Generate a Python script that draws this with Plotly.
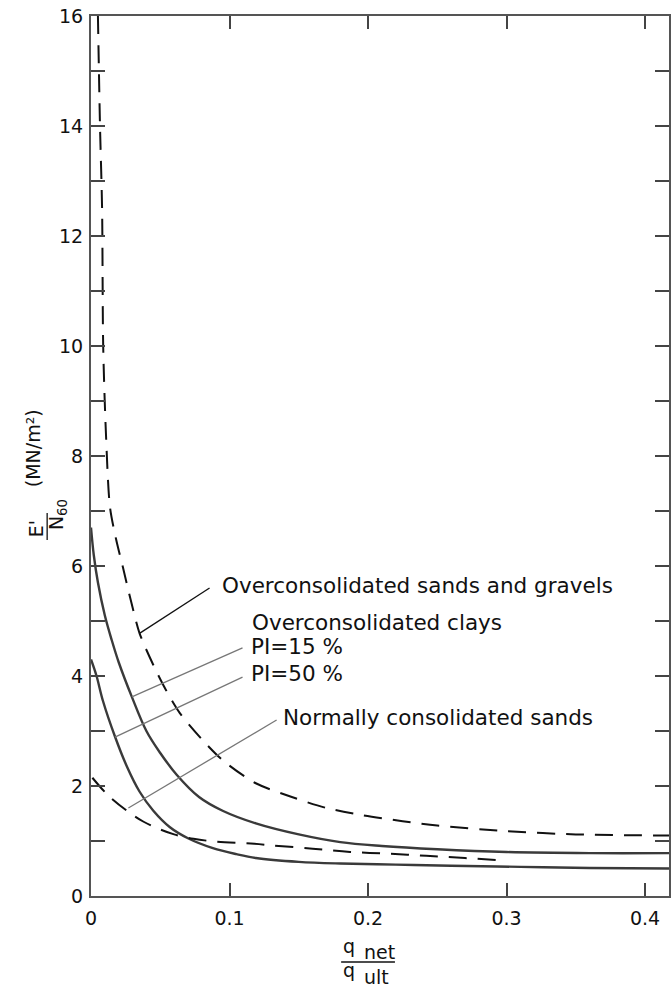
import plotly.graph_objects as go

# ---- curve data: E'/N60 (MN/m2) against q_net/q_ult ----
oc_sands_x = [0.005, 0.0065, 0.008, 0.0088, 0.0108, 0.0137, 0.018, 0.023, 0.029, 0.035, 0.045,
              0.054, 0.064, 0.08, 0.095, 0.119, 0.145, 0.17, 0.196, 0.225, 0.25, 0.3, 0.35, 0.4173]
oc_sands_y = [16, 14, 12.5, 10, 8.4, 7.07, 6.5, 5.98, 5.35, 4.78, 4.2,
              3.75, 3.33, 2.85, 2.47, 2.05, 1.8, 1.6, 1.47, 1.36, 1.28, 1.18, 1.12, 1.1]

pi15_x = [0, 0.002, 0.005, 0.01, 0.015, 0.02, 0.0295, 0.04, 0.05, 0.062, 0.078, 0.095,
          0.119, 0.15, 0.18, 0.21, 0.25, 0.3, 0.36, 0.4173]
pi15_y = [6.7, 6.2, 5.7, 5.1, 4.65, 4.25, 3.62, 3.0, 2.6, 2.2, 1.8, 1.55,
          1.32, 1.12, 0.98, 0.91, 0.85, 0.8, 0.78, 0.78]

pi50_x = [0, 0.004, 0.0086, 0.0173, 0.026, 0.035, 0.045, 0.057, 0.07, 0.088, 0.105, 0.119,
          0.15, 0.18, 0.22, 0.26, 0.31, 0.36, 0.4173]
pi50_y = [4.3, 4.0, 3.55, 2.9, 2.35, 1.9, 1.55, 1.25, 1.05, 0.87, 0.76, 0.69,
          0.62, 0.59, 0.57, 0.55, 0.53, 0.51, 0.5]

nc_sands_x = [0.001, 0.012, 0.026, 0.038, 0.051, 0.06, 0.074, 0.09, 0.118, 0.131, 0.16,
              0.187, 0.215, 0.242, 0.27, 0.3]
nc_sands_y = [2.15, 1.84, 1.55, 1.35, 1.2, 1.12, 1.04, 0.99, 0.95, 0.92, 0.86,
              0.8, 0.77, 0.73, 0.69, 0.64]

# leader lines: (x_text_end, y_text_end, x_curve, y_curve)
leaders = [
    (0.0856, 5.6, 0.0353, 4.78),
    (0.1094, 4.51, 0.0295, 3.62),
    (0.1094, 3.98, 0.0173, 2.89),
    (0.134, 3.2, 0.027, 1.6),
]
leader_colors = ["#111111", "#777777", "#777777", "#777777"]

labels = ["Overconsolidated sands and gravels", "Overconsolidated clays",
          "PI=15 %", "PI=50 %", "Normally consolidated sands"]
label_x = [0.0928, 0.1151, 0.1144, 0.1144, 0.1374]
label_y = [5.65, 4.98, 4.53, 4.05, 3.24]

x_ticks = [0, 0.1, 0.2, 0.3, 0.4]
x_ticktext = ["0", "0.1", "0.2", "0.3", "0.4"]
y_ticks = [0, 2, 4, 6, 8, 10, 12, 14, 16]

FONT = "DejaVu Sans"
W, H = 671, 991
ML, MT, MB = 91, 16, 95
PW, PH = W - ML, H - MT - MB


def px(xpix):
    return (xpix - ML) / PW


def py(ypix):
    return (H - MB - ypix) / PH


fig = go.Figure()

fig.add_trace(go.Scatter(x=oc_sands_x, y=oc_sands_y, mode="lines",
                         line=dict(color="#111111", width=2, dash="18px,11px", shape="spline",
                                   smoothing=0.8),
                         showlegend=False))
fig.add_trace(go.Scatter(x=pi15_x, y=pi15_y, mode="lines",
                         line=dict(color="#3a3a3a", width=2.4, shape="spline"), showlegend=False))
fig.add_trace(go.Scatter(x=pi50_x, y=pi50_y, mode="lines",
                         line=dict(color="#3a3a3a", width=2.4, shape="spline"), showlegend=False))
fig.add_trace(go.Scatter(x=nc_sands_x, y=nc_sands_y, mode="lines",
                         line=dict(color="#111111", width=2, dash="18px,11px", shape="spline"),
                         showlegend=False))

for (x0, y0, x1, y1), c in zip(leaders, leader_colors):
    fig.add_trace(go.Scatter(x=[x0, x1], y=[y0, y1], mode="lines",
                             line=dict(color=c, width=1.3), showlegend=False))

annotations = []
for t, lx, ly in zip(labels, label_x, label_y):
    annotations.append(dict(x=lx, y=ly, xref="x", yref="y", text=t, showarrow=False,
                            xanchor="left", yanchor="middle",
                            font=dict(family=FONT, size=21.5, color="#111111")))

# y-axis title: E'/N60 (MN/m2), rotated
ytitle_parts = [("E'", 36, 529), ("N<sub>60</sub>", 57, 515), ("(MN/m²)", 33, 448)]
for t, xp_, yp_ in ytitle_parts:
    annotations.append(dict(x=px(xp_), y=py(yp_), xref="paper", yref="paper", text=t,
                            showarrow=False, textangle=-90, xanchor="center", yanchor="middle",
                            font=dict(family=FONT, size=19, color="#111111")))

# x-axis title: q_net / q_ult
xtitle_parts = [("q", 350, 946), ("net", 380, 952), ("q", 350, 970), ("ult", 377, 977)]
for t, xp_, yp_ in xtitle_parts:
    annotations.append(dict(x=px(xp_), y=py(yp_), xref="paper", yref="paper", text=t,
                            showarrow=False, xanchor="center", yanchor="middle",
                            font=dict(family=FONT, size=19, color="#111111")))

shapes = [
    dict(type="line", xref="paper", yref="paper", x0=px(342), x1=px(396), y0=py(962), y1=py(962),
         line=dict(color="#111111", width=1.3)),
    dict(type="line", xref="paper", yref="paper", x0=px(47), x1=px(47), y0=py(513), y1=py(540),
         line=dict(color="#111111", width=1.3)),
]

fig.update_layout(
    width=W, height=H,
    margin=dict(l=ML, r=0, t=MT, b=MB, pad=0),
    paper_bgcolor="white", plot_bgcolor="white",
    annotations=annotations, shapes=shapes,
    font=dict(family=FONT, size=19, color="#111111"),
    xaxis=dict(range=[0, 0.4173], tickvals=x_ticks, ticktext=x_ticktext,
               ticks="inside", ticklen=13, tickwidth=1.5, tickcolor="#444444",
               showline=True, linecolor="#555555", linewidth=2, mirror="ticks",
               showgrid=False, zeroline=False, ticklabelstandoff=4,
               tickfont=dict(family=FONT, size=19, color="#111111")),
    yaxis=dict(range=[0, 16], tickvals=y_ticks, ticks="inside", ticklen=9, tickwidth=1.5,
               tickcolor="#444444", showline=True, linecolor="#555555", linewidth=2,
               mirror="ticks", showgrid=False, zeroline=False, ticklabelstandoff=2,
               minor=dict(dtick=1, ticks="inside", ticklen=14, tickwidth=1.5, tickcolor="#444444"),
               tickfont=dict(family=FONT, size=19, color="#111111")),
)

fig.write_html("out.html")
